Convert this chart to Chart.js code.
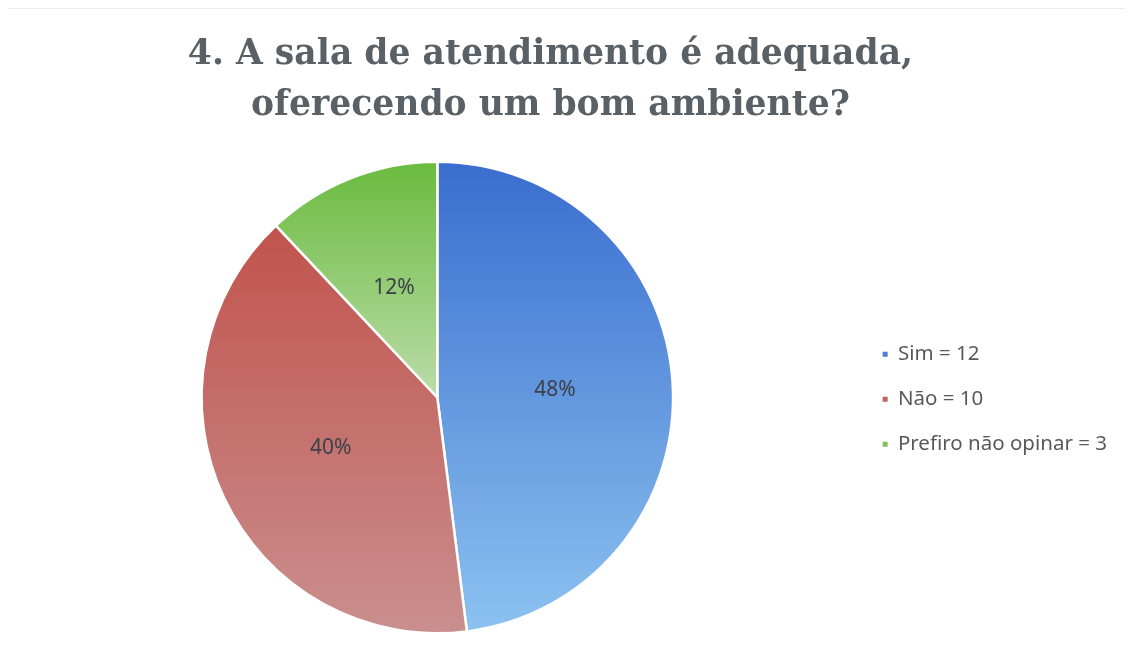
<!DOCTYPE html>
<html>
<head>
<meta charset="utf-8">
<script src="https://cdn.jsdelivr.net/npm/chart.js@4/dist/chart.umd.min.js"></script>
<style>
  html, body { margin: 0; padding: 0; background: #fff; }
  #wrap { width: 1131px; height: 659px; }
</style>
</head>
<body>
<div id="wrap"><canvas id="myChart"></canvas></div>
<script>
// data
var labels = ["Sim = 12", "Não = 10", "Prefiro não opinar = 3"];
var answers = [12, 10, 3];
var titleLines = ["4. A sala de atendimento é adequada,", "oferecendo um bom ambiente?"];

// gradient colours for each slice (top -> bottom), legend swatches
var topColors = ["#3a6dce", "#c1534d", "#69bb3e"];
var bottomColors = ["#8cc2f0", "#c98f8e", "#bcdcaa"];
var legendColors = ["#4a80da", "#c4625e", "#82c257"];

// vertical extent of a slice, used to fit the gradient to it
function sliceBounds(area, index) {
    var cx = (area.left + area.right) / 2, cy = (area.top + area.bottom) / 2;
    var r = Math.min(area.width, area.height) / 2;
    var total = answers.reduce(function(a, b) { return a + b; }, 0);
    var before = 0;
    for (var i = 0; i < index; i++) before += answers[i];
    var a0 = -Math.PI / 2 + 2 * Math.PI * before / total;
    var a1 = a0 + 2 * Math.PI * answers[index] / total;
    var ys = [cy, cy + r * Math.sin(a0), cy + r * Math.sin(a1)];
    for (var k = -1; k <= 3; k++) {
        var a = -Math.PI / 2 + k * Math.PI;
        if (a > a0 && a < a1) ys.push(cy + r * Math.sin(a));
    }
    return { top: Math.min.apply(null, ys), bottom: Math.max.apply(null, ys) };
}

function sliceFill(c) {
    var chart = c.chart, area = chart.chartArea, i = c.dataIndex;
    if (!area) return topColors[i];
    var b = sliceBounds(area, i);
    var g = chart.ctx.createLinearGradient(0, b.top, 0, b.bottom);
    g.addColorStop(0, topColors[i]);
    g.addColorStop(1, bottomColors[i]);
    return g;
}

// percentage labels inside the slices
var percentLabels = {
    id: "percentLabels",
    afterDatasetsDraw: function(chart) {
        var ctx = chart.ctx;
        var total = answers.reduce(function(a, b) { return a + b; }, 0);
        ctx.save();
        ctx.font = "21px 'Noto Sans'";
        ctx.fillStyle = "#3d4048";
        ctx.textAlign = "center";
        ctx.textBaseline = "middle";
        chart.getDatasetMeta(0).data.forEach(function(arc, i) {
            var p = arc.tooltipPosition();
            ctx.fillText(Math.round(answers[i] / total * 100) + "%", p.x, p.y);
        });
        ctx.restore();
    }
};

// faint frame line left over at the top of the scan
var topLine = {
    id: "topLine",
    beforeDraw: function(chart) {
        var ctx = chart.ctx;
        ctx.save();
        ctx.strokeStyle = "#ececec";
        ctx.lineWidth = 1;
        ctx.beginPath();
        ctx.moveTo(8, 8.5);
        ctx.lineTo(1125, 8.5);
        ctx.stroke();
        ctx.restore();
    }
};

var chart = new Chart(document.getElementById("myChart"), {
    type: "pie",
    data: {
        labels: labels,
        datasets: [{
            data: answers,
            backgroundColor: sliceFill,
            borderColor: "#ffffff",
            borderWidth: 2.5
        }]
    },
    options: {
        responsive: true,
        maintainAspectRatio: false,
        animation: false,
        events: [],
        layout: { padding: { left: -16, right: 14, top: 0, bottom: 24.5 } },
        plugins: {
            title: {
                display: true,
                text: titleLines,
                color: "#5a6166",
                font: { family: "'DejaVu Serif'", size: 34.6, weight: "bold", lineHeight: 1.474 },
                padding: { top: 30, bottom: 28.5 }
            },
            legend: {
                position: "right",
                fullSize: false,
                title: { display: true, text: " ", padding: 0, font: { size: 20, lineHeight: 1 } },
                labels: {
                    boxWidth: 5,
                    boxHeight: 5,
                    padding: 8,
                    color: "#595959",
                    font: { family: "'Noto Sans'", size: 20.5, lineHeight: "37px" },
                    // one-line arrays so the row height follows lineHeight
                    generateLabels: function(chart) {
                        return Chart.overrides.pie.plugins.legend.labels.generateLabels(chart).map(function(item, i) {
                            item.text = [item.text];
                            item.fillStyle = legendColors[i];
                            item.strokeStyle = legendColors[i];
                            item.lineWidth = 0;
                            return item;
                        });
                    }
                }
            },
            tooltip: { enabled: false }
        }
    },
    plugins: [percentLabels, topLine]
});
</script>
</body>
</html>
